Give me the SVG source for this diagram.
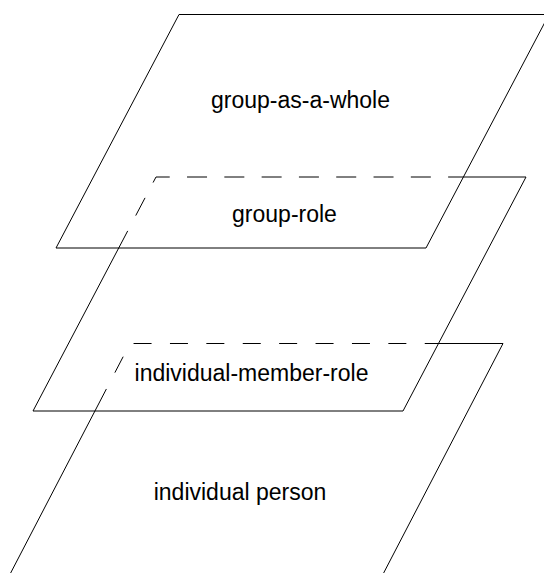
<svg xmlns="http://www.w3.org/2000/svg" width="544" height="573" viewBox="0 0 544 573">
  <style>
    .edge { fill: none; stroke: #000; stroke-width: 1; stroke-linejoin: miter; }
    .hidden-role { fill: none; stroke: #000; stroke-width: 1; stroke-dasharray: 20 17.3; stroke-dashoffset: 13.1; }
    .hidden-person { fill: none; stroke: #000; stroke-width: 1; stroke-dasharray: 18 18.4; stroke-dashoffset: 2.2; }
    .label { font-family: "Liberation Sans", Arial, sans-serif; font-size: 23px; fill: #000; text-anchor: middle; }
  </style>
  <rect width="544" height="573" fill="#fff"/>
  <g id="plane-group-as-a-whole">
    <polygon class="edge" points="179,14.5 549,14.5 426,248 56,248"/>
    <text class="label" x="300.5" y="108">group-as-a-whole</text>
  </g>
  <g id="plane-group-role">
    <path class="edge" d="M463.4 177 L526 177 L403 411 L33 411 L124.5 237"/>
    <path class="hidden-role" d="M124.5 237 L156 177 L463.4 177"/>
    <text class="label" x="284.5" y="222">group-role</text>
  </g>
  <g id="plane-individual-person">
    <path class="edge" d="M438.5 343.5 L503 343.5 L380 580 M99.1 403 L7 580"/>
    <path class="hidden-person" d="M99.1 403 L130 343.5 L438.5 343.5"/>
    <text class="label" x="251.5" y="381">individual-member-role</text>
    <text class="label" x="240" y="500">individual person</text>
  </g>
</svg>
